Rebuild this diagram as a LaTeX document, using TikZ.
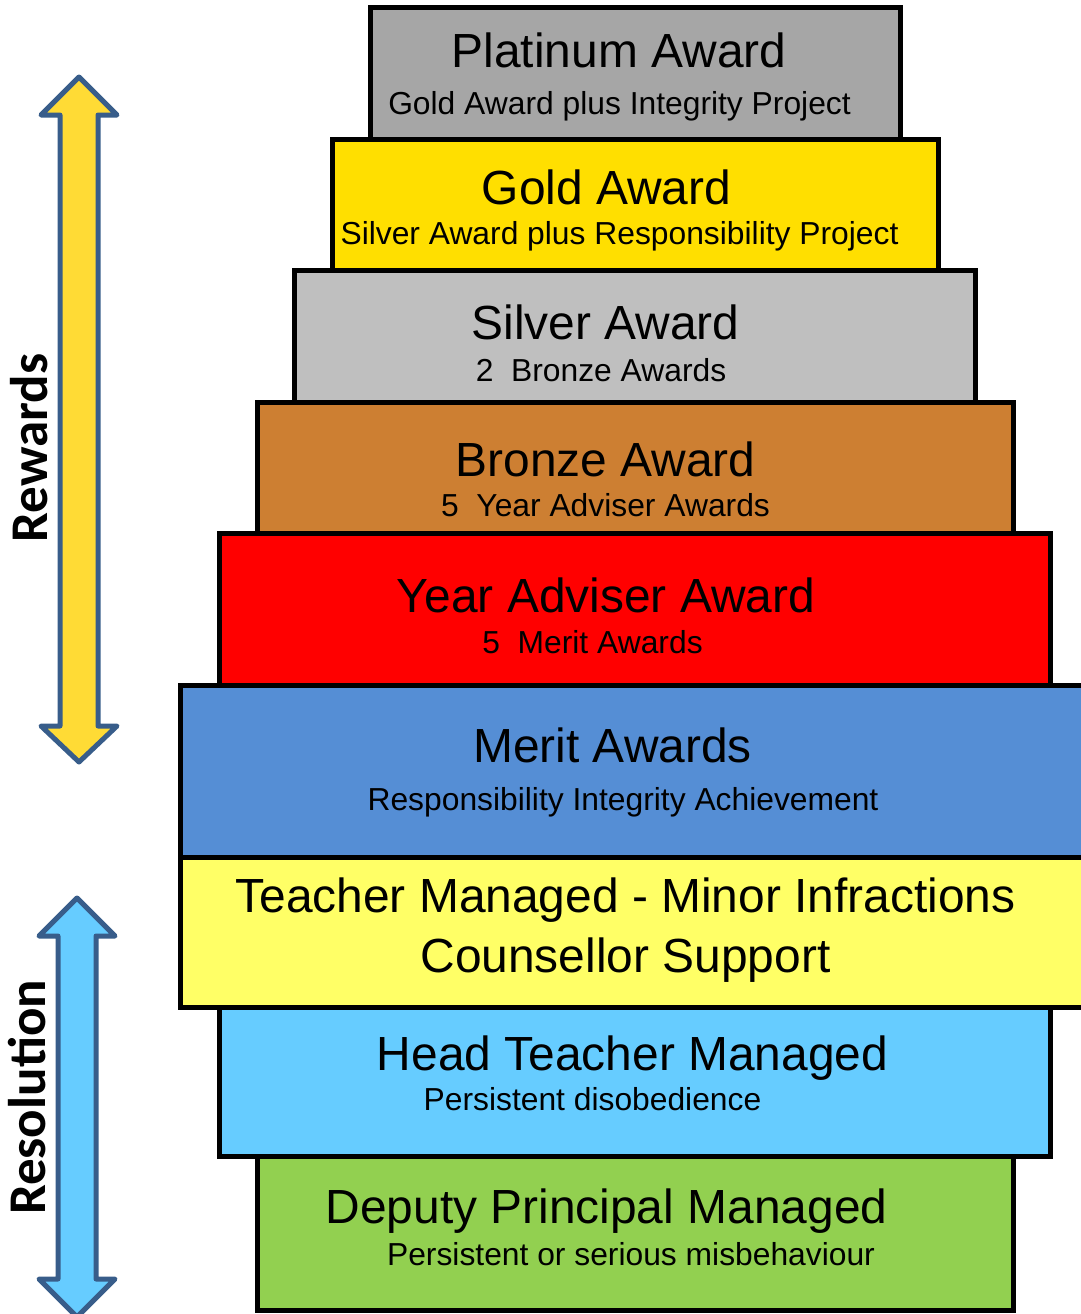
\documentclass[tikz,border=0pt]{standalone}
\usepackage{fontspec}
\setmainfont{Liberation Sans}
\newfontfamily\calfont{Carlito}
\definecolor{platc}{HTML}{A6A6A6}
\definecolor{goldc}{HTML}{FFDF00}
\definecolor{silvc}{HTML}{BFBFBF}
\definecolor{bronc}{HTML}{CD7F32}
\definecolor{yarc}{HTML}{FF0000}
\definecolor{meric}{HTML}{558ED5}
\definecolor{teacc}{HTML}{FFFF66}
\definecolor{headc}{HTML}{66CCFF}
\definecolor{depuc}{HTML}{92D050}
\definecolor{arrowyellow}{HTML}{FFDB35}
\definecolor{arrowblue}{HTML}{66CCFF}
\definecolor{arrowedge}{HTML}{385D8A}
\begin{document}
\begin{tikzpicture}[x=1pt,y=-1pt,
  tier/.style={draw=black,line width=5pt},
  ttl/.style={anchor=base,inner sep=0pt,font=\fontsize{47.9}{50}\selectfont},
  subt/.style={anchor=base,inner sep=0pt,font=\fontsize{31.8}{34}\selectfont},
  arr/.style={draw=arrowedge,line width=5pt,line join=round},
  side/.style={anchor=base,inner sep=0pt,rotate=90,font=\calfont\bfseries\fontsize{53}{56}\selectfont}]
\useasboundingbox (0,0) rectangle (1081,1314);
\clip (0,0) rectangle (1081,1314);
% tiers
\draw[tier,fill=platc] (370,7.5) rectangle (900,139);
\draw[tier,fill=goldc] (332.5,139) rectangle (938,270);
\draw[tier,fill=silvc] (294.5,270) rectangle (975.5,402);
\draw[tier,fill=bronc] (257,402) rectangle (1013,533);
\draw[tier,fill=yarc] (219,533) rectangle (1050.5,685);
\draw[tier,fill=meric] (180.5,685) rectangle (1090,857.5);
\draw[tier,fill=teacc] (180.5,857.5) rectangle (1090,1007.5);
\draw[tier,fill=headc] (219,1007.5) rectangle (1050.5,1156);
\draw[tier,fill=depuc] (257,1156) rectangle (1013,1310);
% texts
\node[ttl] (plat) at (619,67) {Platinum Award};
\node[subt] (platsub) at (619.5,114) {Gold Award plus Integrity Project};
\node[ttl] (gold) at (606.5,204) {Gold Award};
\node[subt] (goldsub) at (619.5,244) {Silver Award plus Responsibility Project};
\node[ttl] (silv) at (605.5,339) {Silver Award};
\node[subt] (silvsub) at (601,381) {2\ \ Bronze Awards};
\node[ttl] (bron) at (605.5,476) {Bronze Award};
\node[subt] (bronsub) at (605.5,516) {5\ \ Year Adviser Awards};
\node[ttl] (yadv) at (606,612) {Year Adviser Award};
\node[subt] (yadvsub) at (592.5,653) {5\ \ Merit Awards};
\node[ttl] (meri) at (612.5,762) {Merit Awards};
\node[subt] (merisub) at (623,810) {Responsibility Integrity Achievement};
\node[ttl] (teac) at (625.5,912) {Teacher Managed - Minor Infractions};
\node[ttl] (couns) at (625.5,972) {Counsellor Support};
\node[ttl] (head) at (632.5,1070) {Head Teacher Managed};
\node[subt] (headsub) at (592.5,1110) {Persistent disobedience};
\node[ttl] (depu) at (606.5,1223) {Deputy Principal Managed};
\node[subt] (depusub) at (631,1265) {Persistent or serious misbehaviour};
% arrows
\draw[arr,fill=arrowyellow] (79,77) -- (117,115) -- (98,115) -- (98,726) -- (117,726) -- (79,762)
  -- (41,726) -- (60,726) -- (60,115) -- (41,115) -- cycle;
\draw[arr,fill=arrowblue] (77,898) -- (115,936) -- (96,936) -- (96,1279) -- (115,1279) -- (77,1317)
  -- (39,1279) -- (58,1279) -- (58,936) -- (39,936) -- cycle;
\node[side] (rew) at (47,448) {Rewards};
\node[side] (res) at (45,1097.5) {Resolution};
\end{tikzpicture}
\end{document}
